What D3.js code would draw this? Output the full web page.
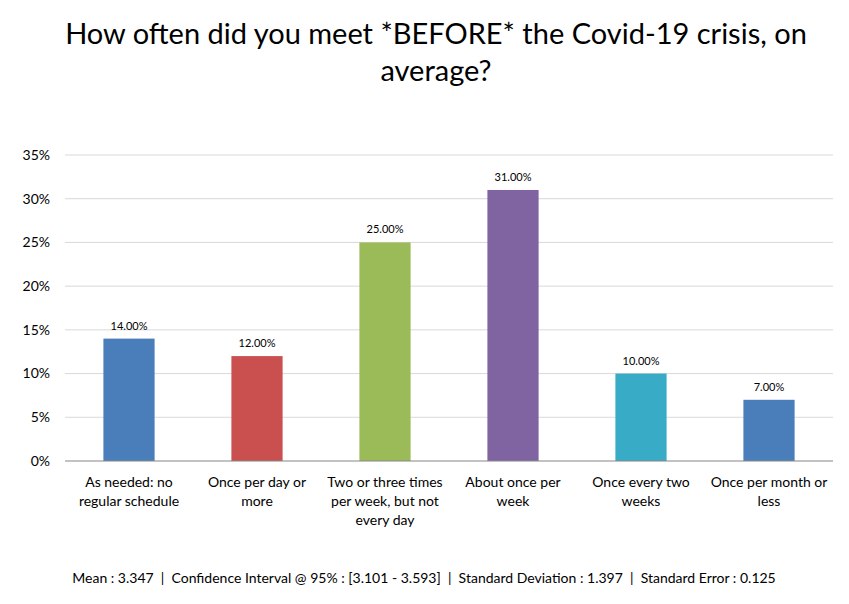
<!DOCTYPE html>
<html lang="en">
<head>
    <meta charset="UTF-8">
    <title>Meeting frequency before Covid-19</title>
    <script src="https://d3js.org/d3.v7.min.js"></script>
    <style>
        body { margin: 0; background: #fff; }
        text { font-family: Lato, "Open Sans", sans-serif; fill: #000; }
    </style>
</head>
<body>
    <div class="chart"></div>
    <script>
        const categories = [
            ["As needed: no", "regular schedule"],
            ["Once per day or", "more"],
            ["Two or three times", "per week, but not", "every day"],
            ["About once per", "week"],
            ["Once every two", "weeks"],
            ["Once per month or", "less"]
        ];
        const values = [14, 12, 25, 31, 10, 7];
        const colors = ["#4a7ebb", "#c9504f", "#9bbb59", "#8064a2", "#38abc6", "#4a7ebb"];
        const yTicks = [0, 5, 10, 15, 20, 25, 30, 35];
        const titleLines = ["How often did you meet *BEFORE* the Covid-19 crisis, on", "average?"];
        const footer = "Mean : 3.347  |  Confidence Interval @ 95% : [3.101 - 3.593]  |  Standard Deviation : 1.397  |  Standard Error : 0.125";

        const width = 849;
        const height = 604;
        const margin = { top: 155, right: 16, bottom: 143, left: 65 };

        const svg = d3.select('.chart')
            .append('svg')
            .attr('width', width)
            .attr('height', height);

        const x = d3.scaleBand()
            .domain(d3.range(values.length))
            .range([margin.left, width - margin.right]);

        const y = d3.scaleLinear()
            .domain([0, 35])
            .range([height - margin.bottom, margin.top]);

        // title
        svg.append('text')
            .attr('text-anchor', 'middle')
            .style('font-size', '29px')
            .selectAll('tspan')
            .data(titleLines)
            .enter()
            .append('tspan')
            .attr('x', 436)
            .attr('y', (d, i) => 44 + i * 37)
            .text(d => d);

        // gridlines
        svg.append('g')
            .selectAll('line')
            .data(yTicks.slice(1))
            .enter()
            .append('line')
            .attr('x1', margin.left)
            .attr('x2', width - margin.right)
            .attr('y1', d => y(d))
            .attr('y2', d => y(d))
            .attr('stroke', '#d9d9d9')
            .attr('stroke-width', 1);

        // y tick labels
        svg.append('g')
            .selectAll('text')
            .data(yTicks)
            .enter()
            .append('text')
            .attr('x', 50)
            .attr('y', d => y(d))
            .attr('dy', '0.35em')
            .attr('text-anchor', 'end')
            .style('font-size', '14px')
            .text(d => d + '%');

        // bars
        const barW = x.bandwidth() * 0.4;
        svg.append('g')
            .selectAll('rect')
            .data(values)
            .enter()
            .append('rect')
            .attr('x', (d, i) => x(i) + (x.bandwidth() - barW) / 2)
            .attr('y', d => y(d))
            .attr('width', barW)
            .attr('height', d => y(0) - y(d))
            .attr('fill', (d, i) => colors[i]);

        // value labels
        svg.append('g')
            .selectAll('text')
            .data(values)
            .enter()
            .append('text')
            .attr('x', (d, i) => x(i) + x.bandwidth() / 2)
            .attr('y', d => y(d) - 9)
            .attr('text-anchor', 'middle')
            .style('font-size', '11px')
            .text(d => d.toFixed(2) + '%');

        // baseline
        svg.append('line')
            .attr('x1', margin.left)
            .attr('x2', width - margin.right)
            .attr('y1', y(0))
            .attr('y2', y(0))
            .attr('stroke', '#868686')
            .attr('stroke-width', 1);

        // category labels
        svg.append('g')
            .selectAll('text')
            .data(categories)
            .enter()
            .append('text')
            .attr('text-anchor', 'middle')
            .style('font-size', '14px')
            .each(function (lines, i) {
                d3.select(this).selectAll('tspan')
                    .data(lines)
                    .enter()
                    .append('tspan')
                    .attr('x', x(i) + x.bandwidth() / 2)
                    .attr('y', (d, j) => 487 + j * 19)
                    .text(d => d);
            });

        // footer stats
        svg.append('text')
            .attr('x', 424)
            .attr('y', 583)
            .attr('text-anchor', 'middle')
            .style('font-size', '14px')
            .style('white-space', 'pre')
            .attr('xml:space', 'preserve')
            .text(footer);
    </script>
</body>
</html>
